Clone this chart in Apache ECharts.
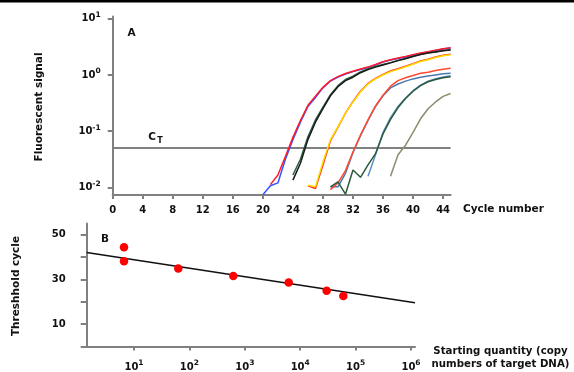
<!DOCTYPE html>
<html><head><meta charset="utf-8">
<script src="https://cdn.jsdelivr.net/npm/echarts@6/dist/echarts.min.js"></script>
<style>html,body{margin:0;padding:0;background:#fff}#c{width:574px;height:372px}</style>
</head><body><div id="c"></div>
<script>
// ---------- Panel A: amplification curves (log10 of fluorescent signal per cycle) ----------
const cycleTicks = [0, 4, 8, 12, 16, 20, 24, 28, 32, 36, 40, 44];
const signalExponentTicks = [-2, -1, 0, 1];
const thresholdSignal = 0.05;

const blue1Start = 20;
const blue1 = [-2.13,-1.97,-1.92,-1.50,-1.15,-0.84,-0.56,-0.40,-0.23,-0.107,-0.036,0.018,0.059,0.098,0.133,0.178,0.231,0.267,0.294,0.32,0.356,0.383,0.409,0.436,0.463,0.48];
const red1Start = 21;
const red1 = [-1.95,-1.78,-1.45,-1.11,-0.81,-0.54,-0.38,-0.22,-0.10,-0.03,0.025,0.066,0.105,0.14,0.185,0.236,0.272,0.30,0.327,0.362,0.39,0.415,0.442,0.468,0.485];
const green2Start = 24;
const green2 = [-1.78,-1.50,-1.10,-0.80,-0.57,-0.35,-0.19,-0.08,-0.02,0.055,0.11,0.15,0.185,0.22,0.26,0.295,0.335,0.37,0.395,0.415,0.435,0.45];
const black2Start = 24;
const black2 = [-1.87,-1.57,-1.15,-0.84,-0.60,-0.37,-0.21,-0.10,-0.04,0.04,0.095,0.14,0.178,0.215,0.255,0.29,0.33,0.365,0.39,0.41,0.43,0.445];
const red3Start = 26;
const red3 = [-1.97,-2.02,-1.60,-1.17,-0.93,-0.68,-0.47,-0.29,-0.15,-0.06,0.01,0.07,0.11,0.155,0.20,0.25,0.28,0.32,0.35,0.37];
const yellow3Start = 26;
const yellow3 = [-1.96,-1.99,-1.55,-1.15,-0.92,-0.68,-0.48,-0.30,-0.16,-0.07,0.0,0.06,0.10,0.145,0.19,0.24,0.27,0.31,0.34,0.36];
const blue4Start = 29;
const blue4 = [-1.99,-1.99,-1.75,-1.38,-1.08,-0.81,-0.56,-0.37,-0.23,-0.16,-0.11,-0.07,-0.04,-0.02,0.0,0.02,0.03];
const red4Start = 29;
const red4 = [-2.04,-1.92,-1.70,-1.37,-1.07,-0.80,-0.55,-0.36,-0.20,-0.10,-0.05,-0.01,0.03,0.05,0.08,0.10,0.12];
const green5Start = 29;
const green5 = [-1.99,-1.90,-2.12,-1.69,-1.82,-1.60,-1.40,-1.05,-0.79,-0.58,-0.42,-0.29,-0.19,-0.12,-0.08,-0.05,-0.03];
const steel5Start = 34;
const steel5 = [-1.80,-1.42,-1.02,-0.76,-0.56,-0.41,-0.28,-0.18,-0.11,-0.065,-0.035,-0.015];
const olive6Start = 37;
const olive6 = [-1.80,-1.42,-1.25,-1.02,-0.78,-0.60,-0.48,-0.38,-0.33];

// ---------- Panel B: threshold cycle vs starting quantity ----------
const startingQuantity = [6.6, 6.6, 63, 620, 6200, 30000, 60000];
const thresholdCycle = [44.3, 38.1, 34.8, 31.5, 28.6, 24.9, 22.6];
const fitQuantity = [1.4, 1180000];
const fitCycle = [42.0, 19.5];
const quantityTicks = [10, 100, 1000, 10000, 100000, 1000000];
const cycleAxisTicks = [0, 10, 20, 30, 40, 50];
const cycleAxisLabels = [10, 30, 50];

const FONT = 'DejaVu Sans';
const GRAY = '#808080';
const TITLE_FONT = 'bold 10.5px "DejaVu Sans"';

function curve(start, arr) { return arr.map((v, i) => [start + i, v]); }
function lineSeries(name, start, arr, color, z) {
  return { name, type: 'line', xAxisIndex: 0, yAxisIndex: 0, data: curve(start, arr),
    showSymbol: false, symbol: 'none', smooth: false, z: z || 3,
    lineStyle: { color, width: 1.5 } };
}
const powRich = {
  b: { fontFamily: FONT, fontWeight: 'bold', fontSize: 10, color: '#111', lineHeight: 15 },
  s: { fontFamily: FONT, fontWeight: 'bold', fontSize: 7.5, color: '#111', lineHeight: 8, verticalAlign: 'top' }
};
const thrLog = Math.log10(thresholdSignal);
const axisLine = { onZero: false, lineStyle: { color: GRAY, width: 2 } };

const chart = echarts.init(document.getElementById('c'), null, { renderer: 'canvas' });
chart.setOption({
  animation: false,
  backgroundColor: '#fff',
  grid: [
    { left: 112.7, top: 16.5, width: 337.9, height: 178.5 },
    { left: 86.7, top: 223.4, width: 328.3, height: 124.9 }
  ],
  xAxis: [
    { gridIndex: 0, type: 'value', min: 0, max: 45, axisLine,
      axisTick: { customValues: cycleTicks, length: 4, lineStyle: { color: GRAY, width: 2 } },
      axisLabel: { customValues: cycleTicks, margin: 10.5, color: '#111', fontFamily: FONT, fontWeight: 'bold', fontSize: 10 },
      splitLine: { show: false } },
    { gridIndex: 1, type: 'log', logBase: 10, min: fitQuantity[0], max: fitQuantity[1], axisLine,
      axisTick: { customValues: quantityTicks, length: 4, lineStyle: { color: GRAY, width: 2 } },
      axisLabel: { customValues: quantityTicks, margin: 13, rich: powRich,
        formatter: v => '{b|10}{s|' + Math.round(Math.log10(v)) + '}' },
      splitLine: { show: false } }
  ],
  yAxis: [
    { gridIndex: 0, type: 'value', min: -2.135, max: 1.04, axisLine,
      axisTick: { customValues: signalExponentTicks, length: 5, lineStyle: { color: GRAY, width: 2 } },
      axisLabel: { customValues: signalExponentTicks, margin: 12, rich: powRich,
        formatter: v => '{b|10}{s|' + Math.round(v) + '}' },
      splitLine: { show: false } },
    { gridIndex: 1, type: 'value', min: 0, max: 55, axisLine,
      axisTick: { customValues: cycleAxisTicks, length: 6, lineStyle: { color: GRAY, width: 2 } },
      axisLabel: { customValues: cycleAxisLabels, margin: 21, color: '#111', fontFamily: FONT, fontWeight: 'bold', fontSize: 10 },
      splitLine: { show: false } }
  ],
  series: [
    { type: 'line', xAxisIndex: 0, yAxisIndex: 0, data: [[0, thrLog], [45, thrLog]], showSymbol: false, symbol: 'none',
      lineStyle: { color: GRAY, width: 2 }, z: 2 },
    lineSeries('blue1', blue1Start, blue1, '#3355ff'),
    lineSeries('red1', red1Start, red1, '#ff1a2a', 4),
    lineSeries('green2', green2Start, green2, '#2b6040'),
    lineSeries('black2', black2Start, black2, '#1a1a1a', 4),
    lineSeries('red3', red3Start, red3, '#ff2a20'),
    lineSeries('yellow3', yellow3Start, yellow3, '#ffdc00', 4),
    lineSeries('blue4', blue4Start, blue4, '#4a78b0'),
    lineSeries('red4', red4Start, red4, '#ff4a30', 4),
    lineSeries('steel5', steel5Start, steel5, '#5f8fc8'),
    lineSeries('green5', green5Start, green5, '#2a5a38', 4),
    lineSeries('olive6', olive6Start, olive6, '#8c8c6c'),
    { type: 'line', xAxisIndex: 1, yAxisIndex: 1, data: fitQuantity.map((q, i) => [q, fitCycle[i]]),
      showSymbol: false, symbol: 'none', lineStyle: { color: '#111', width: 1.5 }, z: 3 },
    { type: 'scatter', xAxisIndex: 1, yAxisIndex: 1, data: startingQuantity.map((q, i) => [q, thresholdCycle[i]]),
      symbol: 'circle', symbolSize: 8.5, itemStyle: { color: '#ff0000', opacity: 1 }, z: 4 }
  ],
  graphic: [
    { type: 'rect', shape: { x: 0, y: 0, width: 574, height: 2.5 }, style: { fill: '#000' } },
    { type: 'text', x: 131.5, y: 33.5, style: { text: 'A', font: TITLE_FONT, fill: '#111', align: 'center', verticalAlign: 'middle' } },
    { type: 'text', x: 105, y: 239, style: { text: 'B', font: TITLE_FONT, fill: '#111', align: 'center', verticalAlign: 'middle' } },
    { type: 'text', x: 152, y: 137, style: { text: 'C', font: TITLE_FONT, fill: '#111', align: 'center', verticalAlign: 'middle' } },
    { type: 'text', x: 160, y: 141, style: { text: 'T', font: 'bold 8px "DejaVu Sans"', fill: '#111', align: 'center', verticalAlign: 'middle' } },
    { type: 'text', x: 39.5, y: 107, rotation: Math.PI / 2, style: { text: 'Fluorescent signal', font: TITLE_FONT, fill: '#111', align: 'center', verticalAlign: 'middle' } },
    { type: 'text', x: 16, y: 286, rotation: Math.PI / 2, style: { text: 'Threshhold cycle', font: TITLE_FONT, fill: '#111', align: 'center', verticalAlign: 'middle' } },
    { type: 'text', x: 463, y: 209.5, style: { text: 'Cycle number', font: TITLE_FONT, fill: '#111', align: 'left', verticalAlign: 'middle' } },
    { type: 'text', x: 500.5, y: 351, style: { text: 'Starting quantity (copy', font: 'bold 10.2px "DejaVu Sans"', fill: '#111', align: 'center', verticalAlign: 'middle' } },
    { type: 'text', x: 500.5, y: 364.5, style: { text: 'numbers of target DNA)', font: 'bold 10.2px "DejaVu Sans"', fill: '#111', align: 'center', verticalAlign: 'middle' } }
  ]
});
</script></body></html>
